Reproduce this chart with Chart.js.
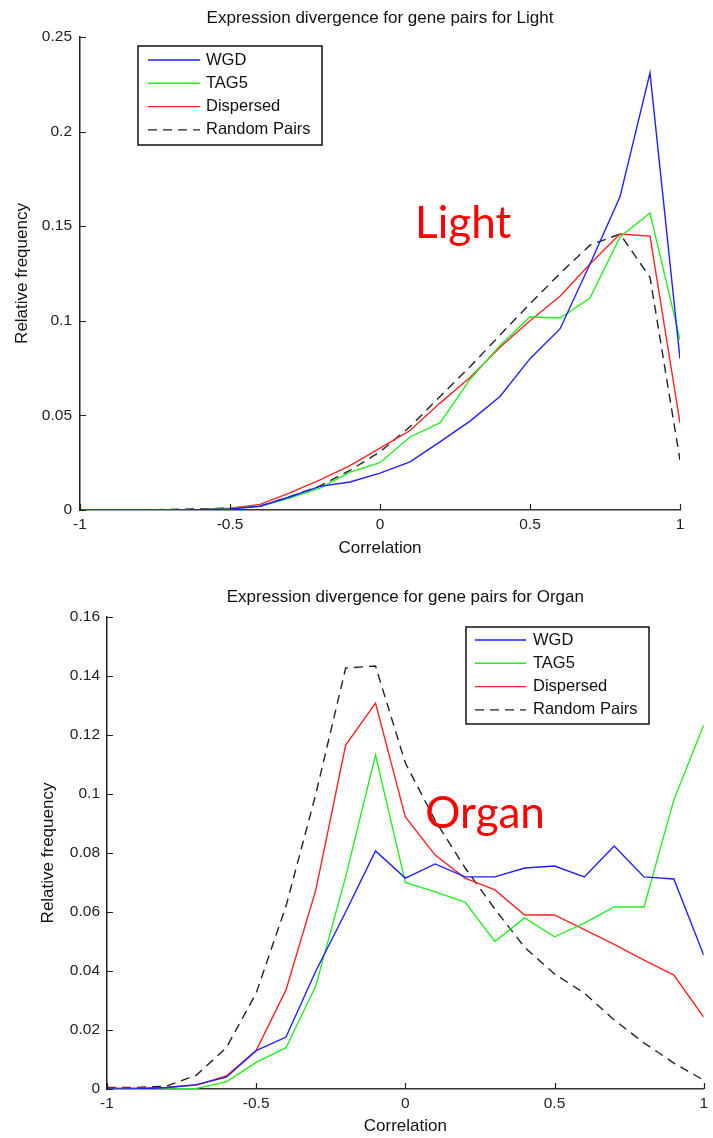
<!DOCTYPE html>
<html>
<head>
<meta charset="utf-8">
<script src="https://cdn.jsdelivr.net/npm/chart.js@4.4.1/dist/chart.umd.min.js"></script>
<style>
	body { margin: 0; background: #fff; }
	.panel { position: absolute; left: 0; }
</style>
</head>
<body>
<div class="panel" style="top:0"><canvas id="light-chart" width="713" height="565"></canvas></div>
<div class="panel" style="top:565px"><canvas id="organ-chart" width="713" height="573"></canvas></div>
<script>
const seriesNames = ["WGD", "TAG5", "Dispersed", "Random Pairs"];

const correlation = [-1, -0.9, -0.8, -0.7, -0.6, -0.5, -0.4, -0.3, -0.2, -0.1, 0, 0.1, 0.2, 0.3, 0.4, 0.5, 0.6, 0.7, 0.8, 0.9, 1];
const xTicks = [-1, -0.5, 0, 0.5, 1];

// Light
const lightWGD = [0, 0, 0, 0, 0.0002, 0.0005, 0.002, 0.007, 0.0125, 0.0148, 0.0195, 0.0254, 0.036, 0.047, 0.06, 0.08, 0.0957, 0.13, 0.1655, 0.231, 0.08];
const lightTAG5 = [0, 0, 0, 0, 0.0002, 0.0008, 0.002, 0.0063, 0.0116, 0.02, 0.025, 0.0386, 0.046, 0.069, 0.087, 0.102, 0.1015, 0.112, 0.1443, 0.157, 0.09];
const lightDispersed = [0, 0, 0, 0, 0.0003, 0.001, 0.003, 0.009, 0.0159, 0.0235, 0.0327, 0.042, 0.0565, 0.07, 0.086, 0.1, 0.113, 0.13, 0.1459, 0.1448, 0.046];
const lightRandom = [0, 0, 0, 0.0003, 0.0006, 0.001, 0.002, 0.007, 0.0127, 0.021, 0.0307, 0.044, 0.06, 0.0757, 0.0925, 0.109, 0.125, 0.14, 0.1459, 0.123, 0.0264];
const lightYTicks = [0, 0.05, 0.1, 0.15, 0.2, 0.25];

// Organ
const organWGD = [0, 0, 0.0005, 0.0015, 0.004, 0.013, 0.0176, 0.04, 0.06, 0.0807, 0.0715, 0.0763, 0.0719, 0.0719, 0.0749, 0.0756, 0.0719, 0.0824, 0.0719, 0.0712, 0.0454];
const organTAG5 = [0, 0, 0, 0.0002, 0.0024, 0.009, 0.014, 0.035, 0.072, 0.1132, 0.07, 0.0668, 0.0634, 0.05, 0.058, 0.0516, 0.0562, 0.0617, 0.0617, 0.098, 0.1234];
const organDispersed = [0.0003, 0.0003, 0.0005, 0.0013, 0.0044, 0.013, 0.0336, 0.0675, 0.1166, 0.1308, 0.0922, 0.0793, 0.0715, 0.0675, 0.059, 0.059, 0.054, 0.049, 0.0437, 0.0386, 0.0244];
const organRandom = [0.0005, 0.0005, 0.001, 0.0047, 0.014, 0.0325, 0.062, 0.1, 0.1427, 0.1434, 0.1105, 0.091, 0.075, 0.061, 0.048, 0.039, 0.0325, 0.0234, 0.0156, 0.0088, 0.003];
const organYTicks = [0, 0.02, 0.04, 0.06, 0.08, 0.1, 0.12, 0.14, 0.16];

const seriesStyles = [
	{ color: "#1f1fff", dash: [] },
	{ color: "#22ee22", dash: [] },
	{ color: "#ff2222", dash: [] },
	{ color: "#222222", dash: [9, 6] },
];

const fmt = (v) => String(Number(v.toFixed(4)));

const inwardTicks = {
	id: "inwardTicks",
	afterDraw(chart) {
		const { ctx, chartArea, scales } = chart;
		ctx.save();
		ctx.strokeStyle = "#222";
		ctx.lineWidth = 1.2;
		ctx.beginPath();
		scales.x.ticks.forEach((t) => {
			const px = Math.round(scales.x.getPixelForValue(t.value)) + 0.5;
			ctx.moveTo(px, chartArea.bottom);
			ctx.lineTo(px, chartArea.bottom - 6);
		});
		scales.y.ticks.forEach((t) => {
			const py = Math.round(scales.y.getPixelForValue(t.value)) + 0.5;
			ctx.moveTo(chartArea.left, py);
			ctx.lineTo(chartArea.left + 6, py);
		});
		ctx.stroke();
		ctx.restore();
	},
};

const boxLegend = {
	id: "boxLegend",
	afterDraw(chart, args, opts) {
		const { ctx } = chart;
		ctx.save();
		ctx.strokeStyle = "#111";
		ctx.lineWidth = 1.5;
		ctx.strokeRect(opts.left, opts.top, opts.width, opts.height);
		ctx.font = "16.5px 'Liberation Sans', Arial, sans-serif";
		ctx.textBaseline = "middle";
		ctx.fillStyle = "#111";
		chart.data.datasets.forEach((ds, i) => {
			const y = opts.top + opts.firstRow + i * opts.rowGap;
			ctx.strokeStyle = ds.borderColor;
			ctx.lineWidth = ds.borderWidth;
			ctx.setLineDash(ds.borderDash);
			ctx.beginPath();
			ctx.moveTo(opts.left + opts.lineStart, y);
			ctx.lineTo(opts.left + opts.lineStart + opts.lineLength, y);
			ctx.stroke();
			ctx.setLineDash([]);
			ctx.fillText(ds.label, opts.left + opts.textStart, y);
		});
		ctx.restore();
	},
};

const panelLabel = {
	id: "panelLabel",
	afterDraw(chart, args, opts) {
		const { ctx, scales } = chart;
		ctx.save();
		ctx.font = "44px Lato, 'Open Sans', sans-serif";
		ctx.fillStyle = "#ff0000";
		ctx.textBaseline = "alphabetic";
		ctx.fillText(
			opts.text,
			scales.x.getPixelForValue(opts.x),
			scales.y.getPixelForValue(opts.y)
		);
		ctx.restore();
	},
};

Chart.defaults.font.family = "'Liberation Sans', Arial, sans-serif";
Chart.defaults.color = "#222";

const makeChart = (canvasId, cfg) => {
	const series = [cfg.wgd, cfg.tag5, cfg.dispersed, cfg.random];
	return new Chart(document.getElementById(canvasId), {
		type: "line",
		data: {
			datasets: series.map((values, i) => ({
				label: seriesNames[i],
				data: values.map((v, j) => ({ x: correlation[j], y: v })),
				borderColor: seriesStyles[i].color,
				borderDash: seriesStyles[i].dash,
				borderWidth: 1.4,
				pointRadius: 0,
				tension: 0,
				fill: false,
			})),
		},
		options: {
			responsive: false,
			animation: false,
			layout: { padding: { left: 0, right: cfg.padRight, top: 0, bottom: 0 } },
			scales: {
				x: {
					type: "linear",
					min: -1,
					max: 1,
					afterBuildTicks: (scale) => {
						scale.ticks = xTicks.map((v) => ({ value: v }));
					},
					afterFit: (scale) => {
						scale.height = cfg.xHeight;
					},
					grid: { display: false, drawTicks: false },
					border: { display: true, color: "#333", width: 1.5 },
					ticks: {
						padding: cfg.xTickPad,
						font: { size: 15.5 },
						color: "#222",
						maxRotation: 0,
						callback: (v) => fmt(v),
					},
					title: {
						display: true,
						text: "Correlation",
						font: { size: 17 },
						color: "#111",
						padding: { top: 0, bottom: cfg.xTitlePad },
					},
				},
				y: {
					type: "linear",
					min: 0,
					max: cfg.yTicks[cfg.yTicks.length - 1],
					afterBuildTicks: (scale) => {
						scale.ticks = cfg.yTicks.map((v) => ({ value: v }));
					},
					afterFit: (scale) => {
						scale.width = cfg.yWidth;
					},
					grid: { display: false, drawTicks: false },
					border: { display: true, color: "#222", width: 1.5 },
					ticks: {
						padding: cfg.yTickPad,
						font: { size: 15.5 },
						color: "#222",
						callback: (v) => fmt(v),
					},
					title: {
						display: true,
						text: "Relative frequency",
						font: { size: 17 },
						color: "#111",
						padding: { top: cfg.yTitlePad, bottom: 0 },
					},
				},
			},
			plugins: {
				legend: { display: false },
				tooltip: { enabled: false },
				title: {
					display: true,
					fullSize: false,
					text: cfg.title,
					color: "#111",
					font: { size: 17, weight: "normal" },
					padding: { top: cfg.titleTop, bottom: cfg.titleBottom },
				},
				boxLegend: cfg.legend,
				panelLabel: cfg.label,
			},
		},
		plugins: [inwardTicks, boxLegend, panelLabel],
	});
};

makeChart("light-chart", {
	title: "Expression divergence for gene pairs for Light",
	wgd: lightWGD,
	tag5: lightTAG5,
	dispersed: lightDispersed,
	random: lightRandom,
	yTicks: lightYTicks,
	padRight: 33,
	xHeight: 55,
	yWidth: 80,
	xTickPad: 5,
	yTickPad: 8,
	xTitlePad: 6,
	yTitlePad: 12,
	titleTop: 8,
	titleBottom: 8.6,
	legend: { left: 138, top: 46, width: 184, height: 99, firstRow: 14, rowGap: 23.3, lineStart: 10, lineLength: 52, textStart: 68 },
	label: { text: "Light", x: 0.117, y: 0.1438 },
});

makeChart("organ-chart", {
	title: "Expression divergence for gene pairs for Organ",
	wgd: organWGD,
	tag5: organTAG5,
	dispersed: organDispersed,
	random: organRandom,
	yTicks: organYTicks,
	padRight: 6,
	xHeight: 49,
	yWidth: 107,
	xTickPad: 5,
	yTickPad: 7,
	xTitlePad: 1,
	yTitlePad: 38,
	titleTop: 22,
	titleBottom: 9.6,
	legend: { left: 466, top: 62, width: 183, height: 97, firstRow: 13, rowGap: 23.3, lineStart: 9, lineLength: 51, textStart: 67 },
	label: { text: "Organ", x: 0.067, y: 0.0885 },
});
</script>
</body>
</html>
